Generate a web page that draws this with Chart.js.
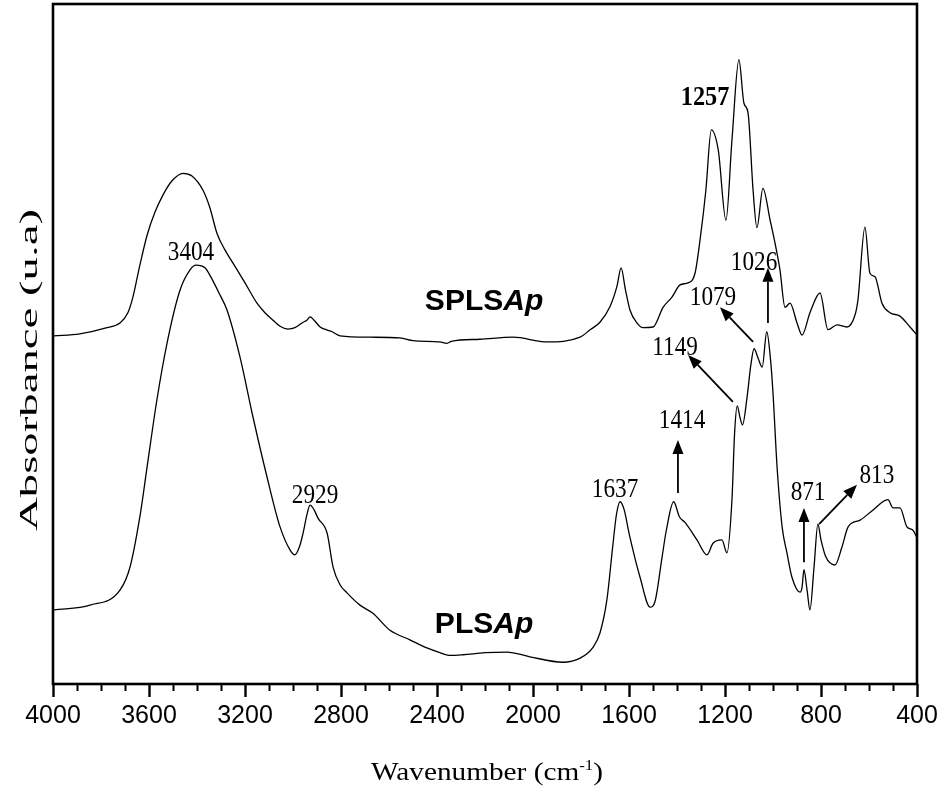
<!DOCTYPE html>
<html>
<head>
<meta charset="utf-8">
<script src="https://cdn.jsdelivr.net/npm/chart.js@4"></script>
<style>
  html, body { margin: 0; padding: 0; background: #fff; }
  #wrap { width: 945px; height: 798px; }
</style>
</head>
<body>
<div id="wrap"><canvas id="ftir" width="945" height="798"></canvas></div>
<script>
// FTIR spectra of SPLSAp (upper trace) and PLSAp (lower trace)
const splsWavenumber = [3996, 3888, 3775, 3721, 3688, 3667, 3638, 3608, 3575, 3542, 3504, 3458, 3421, 3375, 3346, 3317, 3283, 3250, 3200, 3150, 3117, 3083, 3054, 3021, 2992, 2958, 2942, 2929, 2912, 2887, 2862, 2837, 2804, 2679, 2554, 2500, 2388, 2358, 2340, 2221, 2083, 1942, 1804, 1762, 1721, 1679, 1650, 1633, 1615, 1596, 1567, 1542, 1500, 1458, 1421, 1387, 1354, 1325, 1304, 1280, 1257, 1228, 1196, 1171, 1142, 1121, 1104, 1083, 1067, 1042, 1012, 992, 971, 950, 929, 900, 879, 846, 804, 771, 733, 692, 658, 646, 617, 596, 575, 546, 512, 471, 429, 400];
const splsAbsorbance = [51.2, 51.5, 52.4, 53.1, 54.6, 56.9, 61.6, 66.0, 69.4, 71.9, 74.0, 75.1, 74.7, 72.6, 70.0, 66.3, 63.8, 61.9, 59.0, 56.0, 54.6, 53.5, 52.6, 52.2, 52.4, 53.2, 53.5, 54.0, 53.5, 52.5, 52.1, 51.8, 51.2, 51.0, 50.9, 50.5, 50.3, 50.1, 50.4, 50.7, 51.0, 50.3, 51.0, 52.1, 53.2, 55.5, 58.5, 61.2, 58.0, 55.0, 53.1, 52.4, 52.5, 55.4, 56.9, 58.7, 59.0, 60.4, 65.3, 72.5, 81.5, 78.5, 68.2, 80.0, 91.8, 85.4, 84.0, 72.6, 67.1, 72.9, 68.2, 64.9, 60.9, 55.4, 56.0, 53.1, 51.3, 54.6, 57.5, 52.1, 52.8, 52.5, 54.3, 56.5, 67.2, 60.4, 59.9, 56.0, 54.6, 54.1, 52.5, 51.3];

const plsWavenumber = [3996, 3846, 3721, 3679, 3638, 3608, 3567, 3525, 3471, 3429, 3404, 3367, 3346, 3304, 3275, 3221, 3167, 3108, 3054, 3012, 2992, 2971, 2958, 2942, 2929, 2912, 2896, 2858, 2833, 2804, 2775, 2721, 2667, 2596, 2513, 2442, 2388, 2350, 2292, 2200, 2108, 2013, 1875, 1804, 1750, 1721, 1692, 1667, 1652, 1637, 1620, 1600, 1554, 1512, 1492, 1462, 1445, 1414, 1390, 1365, 1317, 1275, 1250, 1213, 1192, 1171, 1160, 1149, 1137, 1127, 1108, 1092, 1079, 1062, 1045, 1026, 1010, 1000, 983, 962, 942, 921, 887, 879, 871, 858, 846, 829, 813, 800, 780, 742, 713, 687, 637, 583, 521, 500, 471, 442, 417, 400];
const plsAbsorbance = [10.9, 11.6, 13.8, 17.2, 24.6, 31.9, 41.8, 50.1, 57.9, 60.9, 61.6, 61.2, 60.1, 57.2, 55.0, 48.1, 39.3, 30.4, 23.1, 19.7, 19.0, 20.4, 22.2, 24.9, 26.3, 25.6, 24.4, 22.2, 17.2, 14.6, 13.4, 11.6, 10.4, 7.9, 6.5, 5.3, 4.6, 4.2, 4.3, 4.6, 4.7, 4.0, 3.2, 3.8, 5.4, 7.5, 12.4, 20.5, 25.0, 26.8, 25.6, 22.2, 15.7, 11.3, 12.1, 18.7, 22.5, 26.8, 24.6, 23.7, 21.2, 19.0, 20.7, 21.2, 19.3, 27.1, 36.9, 40.9, 39.1, 38.1, 42.2, 47.0, 49.3, 47.9, 46.6, 51.8, 47.6, 42.8, 31.9, 23.1, 19.3, 15.7, 13.5, 14.2, 16.8, 13.8, 10.9, 17.2, 23.5, 21.2, 18.7, 17.5, 20.1, 23.1, 24.1, 25.6, 27.1, 25.9, 25.9, 23.1, 22.6, 21.5];

const xTickValues = [4000, 3600, 3200, 2800, 2400, 2000, 1600, 1200, 800, 400];
const xMinorStep = 100;

// Band labels: text, anchor wavenumber and absorbance of the text baseline
const bandLabels = [
  { text: '3404', wn: 3425, ab: 62.4 },
  { text: '2929', wn: 2908, ab: 26.6 },
  { text: '1637', wn: 1658, ab: 27.5 },
  { text: '1414', wn: 1379, ab: 37.6 },
  { text: '1149', wn: 1408, ab: 48.4 },
  { text: '1079', wn: 1250, ab: 55.7 },
  { text: '1026', wn: 1079, ab: 60.9 },
  { text: '871',  wn: 854,  ab: 27.1 },
  { text: '813',  wn: 567,  ab: 29.6 },
  { text: '1257', wn: 1283, ab: 85.1, bold: true }
];
// Arrows pointing from a band to its label: tail -> head
const bandArrows = [
  { from: [1396, 28.1], to: [1396, 35.9] },
  { from: [1167, 41.5], to: [1354, 48.4] },
  { from: [1083, 50.3], to: [1221, 55.4] },
  { from: [1021, 53.1], to: [1021, 61.2] },
  { from: [871, 17.9],  to: [871, 25.9] },
  { from: [808, 23.5],  to: [650, 29.3] }
];
// Sample names
const sampleNames = [
  { plain: 'SPLS', italic: 'Ap', wn: 2204, ab: 55.0 },
  { plain: 'PLS',  italic: 'Ap', wn: 2204, ab: 7.5 }
];

function fontAvailable(name) {
  const c = document.createElement('canvas').getContext('2d');
  c.font = '72px monospace';
  const a = c.measureText('4000 abcWM').width;
  c.font = '72px "' + name + '", monospace';
  const b = c.measureText('4000 abcWM').width;
  return a !== b;
}
const narrow = fontAvailable('Liberation Sans Narrow');
const tickFont = narrow
  ? { family: "'Liberation Sans Narrow', 'Liberation Sans', Arial, sans-serif", size: 29 }
  : { family: "'Liberation Sans', Arial, sans-serif", size: 25 };

const SERIF = "'Liberation Serif', 'Times New Roman', serif";
const SANS = "'Liberation Sans', Arial, sans-serif";

function toXY(xs, ys) { return xs.map((x, i) => ({ x: x, y: ys[i] })); }

function arrow(ctx, x1, y1, x2, y2) {
  const ang = Math.atan2(y2 - y1, x2 - x1);
  const hl = 14, hw = 5.5;
  const bx = x2 - hl * Math.cos(ang), by = y2 - hl * Math.sin(ang);
  ctx.beginPath();
  ctx.moveTo(x1, y1);
  ctx.lineTo(bx, by);
  ctx.lineWidth = 1.8;
  ctx.strokeStyle = '#000';
  ctx.stroke();
  ctx.beginPath();
  ctx.moveTo(x2, y2);
  ctx.lineTo(bx + hw * Math.sin(ang), by - hw * Math.cos(ang));
  ctx.lineTo(bx - hw * Math.sin(ang), by + hw * Math.cos(ang));
  ctx.closePath();
  ctx.fillStyle = '#000';
  ctx.fill();
}

// Draws a list of text runs centred on cx, squeezed/stretched to a width when given
function drawRuns(ctx, runs, cx, baseY, targetW, rotate) {
  let total = 0;
  runs.forEach(r => { ctx.font = r.font; r.w = ctx.measureText(r.text).width; total += r.w; });
  const sx = targetW ? targetW / total : 1;
  ctx.save();
  ctx.translate(cx, baseY);
  if (rotate) ctx.rotate(-Math.PI / 2);
  ctx.scale(sx, 1);
  ctx.fillStyle = '#000';
  ctx.textAlign = 'left';
  ctx.textBaseline = 'alphabetic';
  let x = -total / 2;
  runs.forEach(r => {
    ctx.font = r.font;
    ctx.fillText(r.text, x, r.dy || 0);
    x += r.w;
  });
  ctx.restore();
}

const decorations = {
  id: 'decorations',
  afterDraw(chart) {
    const ctx = chart.ctx;
    const xs = chart.scales.x, ys = chart.scales.y;
    const a = chart.chartArea;

    // frame
    ctx.save();
    ctx.strokeStyle = '#000';
    ctx.lineWidth = 2.6;
    ctx.strokeRect(a.left, a.top, a.right - a.left, a.bottom - a.top);

    // minor ticks
    ctx.lineWidth = 2;
    for (let v = xs.max; v >= xs.min; v -= xMinorStep) {
      if (xTickValues.indexOf(v) !== -1) continue;
      const px = Math.round(xs.getPixelForValue(v)) + 0.5;
      ctx.beginPath();
      ctx.moveTo(px, a.bottom);
      ctx.lineTo(px, a.bottom + 7);
      ctx.stroke();
    }

    // arrows
    bandArrows.forEach(ar => {
      arrow(ctx,
        xs.getPixelForValue(ar.from[0]), ys.getPixelForValue(ar.from[1]),
        xs.getPixelForValue(ar.to[0]), ys.getPixelForValue(ar.to[1]));
    });

    // band labels
    bandLabels.forEach(l => {
      const font = (l.bold ? 'bold ' : '') + '27px ' + SERIF;
      ctx.font = font;
      const w = ctx.measureText(l.text).width * (l.bold ? 0.9 : 0.86);
      drawRuns(ctx, [{ text: l.text, font: font }],
        xs.getPixelForValue(l.wn), ys.getPixelForValue(l.ab), w, false);
    });

    // sample names
    sampleNames.forEach(s => {
      drawRuns(ctx, [
        { text: s.plain, font: 'bold 30px ' + SANS },
        { text: s.italic, font: 'italic bold 30px ' + SANS }
      ], xs.getPixelForValue(s.wn), ys.getPixelForValue(s.ab), null, false);
    });

    // axis titles
    drawRuns(ctx, [
      { text: 'Wavenumber (cm', font: '26px ' + SERIF },
      { text: '-1', font: '15px ' + SERIF, dy: -10 },
      { text: ')', font: '26px ' + SERIF }
    ], (a.left + a.right) / 2 + 2, 780, 232, false);

    drawRuns(ctx, [{ text: 'Absorbance (u.a)', font: '26px ' + SERIF }],
      37, (a.top + a.bottom) / 2 + 26, 322, true);
    ctx.restore();
  }
};

new Chart(document.getElementById('ftir'), {
  type: 'line',
  data: {
    datasets: [
      { label: 'SPLSAp', data: toXY(splsWavenumber, splsAbsorbance) },
      { label: 'PLSAp', data: toXY(plsWavenumber, plsAbsorbance) }
    ]
  },
  options: {
    responsive: false,
    animation: false,
    devicePixelRatio: 1,
    layout: { padding: { top: 4, right: 28, left: 0, bottom: 0 } },
    elements: {
      line: { borderColor: '#000', borderWidth: 1.3, fill: false, cubicInterpolationMode: 'monotone' },
      point: { radius: 0, hoverRadius: 0 }
    },
    plugins: { legend: { display: false }, tooltip: { enabled: false } },
    scales: {
      x: {
        type: 'linear',
        reverse: true,
        min: 400,
        max: 4000,
        afterBuildTicks: s => { s.ticks = xTickValues.map(v => ({ value: v })); },
        afterFit: s => { s.height = 114; },
        border: { display: false },
        grid: { display: true, drawOnChartArea: false, drawTicks: true, tickLength: 13, tickWidth: 2.4, tickColor: '#000' },
        ticks: {
          color: '#000',
          font: tickFont,
          padding: 4,
          maxRotation: 0,
          autoSkip: false,
          callback: v => String(v)
        }
      },
      y: {
        min: 0,
        max: 100,
        afterFit: s => { s.width = 53; },
        border: { display: false },
        grid: { display: false },
        ticks: { display: false }
      }
    }
  },
  plugins: [decorations]
});
</script>
</body>
</html>
